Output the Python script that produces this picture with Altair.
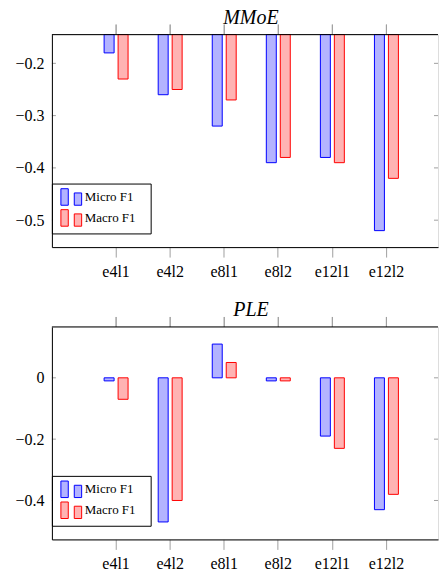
import altair as alt
import pandas as pd

CATS = ["e4l1", "e4l2", "e8l1", "e8l2", "e12l1", "e12l2"]
SERIES = ["Micro F1", "Macro F1"]
MMOE_MICRO = [-0.18, -0.26, -0.32, -0.39, -0.38, -0.52]
MMOE_MACRO = [-0.23, -0.25, -0.27, -0.38, -0.39, -0.42]
PLE_MICRO = [-0.01, -0.47, 0.11, -0.01, -0.19, -0.43]
PLE_MACRO = [-0.07, -0.40, 0.05, -0.01, -0.23, -0.38]
MMOE_TICKS = [-0.5, -0.4, -0.3, -0.2]
PLE_TICKS = [-0.4, -0.2, 0.0]
MMOE_DOMAIN = [-0.5515, -0.145]
PLE_DOMAIN = [-0.527, 0.166]

FILLS = ["#b3b3ff", "#ffb3b3"]
STROKES = ["#0000ff", "#ff0000"]
FONT = "Liberation Serif"
TICK = "#a0a0a0"
W, H = 387, 213
SYMBOL = "M-1.31,-1.04H-0.385V1.03H-1.31Z M0.365,-0.51H1.29V1.03H0.365Z"


def frame(micro, macro):
    rows = []
    for c, a, b in zip(CATS, micro, macro):
        rows.append({"cat": c, "series": SERIES[0], "value": a})
        rows.append({"cat": c, "series": SERIES[1], "value": b})
    return pd.DataFrame(rows)


def legend():
    return alt.Legend(
        title="M", titleOrient="right", titleOpacity=0, titleFontSize=10, titlePadding=1,
        orient="none", legendX=0, legendY=149.3, direction="vertical",
        strokeColor="black", fillColor="white", padding=5, cornerRadius=0,
        symbolType=SYMBOL, symbolSize=256, symbolStrokeWidth=1, symbolOffset=6,
        labelFont=FONT, labelFontSize=13, labelColor="black", labelOffset=5,
        rowPadding=0,
    )


def panel(title, micro, macro, domain, ticks):
    df = frame(micro, macro)
    base = min(0.0, domain[1])
    tdf = pd.DataFrame({"t": ticks})
    per_px = (domain[1] - domain[0]) / H
    lo_v = domain[1]
    hi_v = domain[1] + 10 * per_px
    cdf = pd.DataFrame({"cat": CATS, "lo": lo_v, "hi": hi_v, "mid": (lo_v + hi_v) / 2})
    ttl = pd.DataFrame({"title": [title]})
    xscale = alt.Scale(domain=CATS, paddingInner=0.557, paddingOuter=0.8493, align=0.5687, round=False)
    yscale = alt.Scale(domain=domain, nice=False, zero=False)
    xaxis = alt.Axis(orient="bottom", labelAngle=0, labelFont=FONT, labelFontSize=16,
                     labelColor="black", tickSize=10, tickColor=TICK,
                     labelPadding=6, domain=True, domainColor="black", zindex=1)
    yaxis = alt.Axis(orient="left", values=ticks, format="~g", ticks=False,
                     labelFont=FONT, labelFontSize=16, labelColor="black",
                     labelPadding=8, domain=True, domainColor="black", grid=False,
                     minExtent=38, maxExtent=38, zindex=1)
    bars = alt.Chart(df).mark_bar(strokeWidth=1).encode(
        x=alt.X("cat:N", scale=xscale, title=None, axis=xaxis),
        xOffset=alt.XOffset("series:N", scale=alt.Scale(domain=SERIES, paddingInner=0.286, paddingOuter=0)),
        y=alt.Y("value:Q", scale=yscale, title=None, axis=yaxis),
        y2=alt.datum(base),
        fill=alt.Fill("series:N", scale=alt.Scale(domain=SERIES, range=FILLS), legend=legend()),
        stroke=alt.Stroke("series:N", scale=alt.Scale(domain=SERIES, range=STROKES), legend=legend()),
    )
    top_ticks = alt.Chart(cdf).mark_rule(color=TICK, strokeWidth=1, clip=False).encode(
        x=alt.X("cat:N", scale=xscale, title=None, axis=xaxis),
        y=alt.Y("hi:Q", scale=yscale, title=None, axis=yaxis),
        y2="lo:Q",
    )
    top_ticks_alt = alt.Chart(cdf).mark_tick(
        color=TICK, orient="vertical", size=10, thickness=1, clip=False, opacity=1
    ).encode(
        x=alt.X("cat:N", scale=xscale, title=None, axis=xaxis),
        y=alt.Y("mid:Q", scale=yscale, title=None, axis=yaxis),
    )
    top_line = alt.Chart(ttl).mark_rule(color="black", strokeWidth=1).encode(
        x=alt.value(0), x2=alt.value(W), y=alt.value(0),
    )
    left_ticks = alt.Chart(tdf).mark_rule(color=TICK, strokeWidth=1).encode(
        y=alt.Y("t:Q", scale=yscale, title=None, axis=yaxis), x=alt.value(0), x2=alt.value(4),
    )
    right_ticks = alt.Chart(tdf).mark_rule(color=TICK, strokeWidth=1).encode(
        y=alt.Y("t:Q", scale=yscale, title=None, axis=yaxis), x=alt.value(W - 4), x2=alt.value(W),
    )
    title_text = alt.Chart(ttl).mark_text(
        font=FONT, fontSize=20, fontStyle="italic", color="black", align="center",
        baseline="alphabetic",
    ).encode(text="title:N", x=alt.value(199.5), y=alt.value(-11))
    return alt.layer(bars, left_ticks, right_ticks, top_ticks, top_ticks_alt, top_line, title_text).properties(
        width=W, height=H,
    )


top = panel("MMoE", MMOE_MICRO, MMOE_MACRO, MMOE_DOMAIN, MMOE_TICKS)
bottom = panel("PLE", PLE_MICRO, PLE_MACRO, PLE_DOMAIN, PLE_TICKS)

chart = alt.vconcat(top, bottom, spacing=19).resolve_scale(
    fill="independent", stroke="independent"
).resolve_legend(fill="independent", stroke="independent").properties(
    padding={"left": 5, "top": -2, "right": 0, "bottom": 0}
).configure_view(strokeWidth=0, strokeOpacity=0).configure(background="white")

chart.save("out.html", embed_options={"renderer": "svg", "actions": False})
